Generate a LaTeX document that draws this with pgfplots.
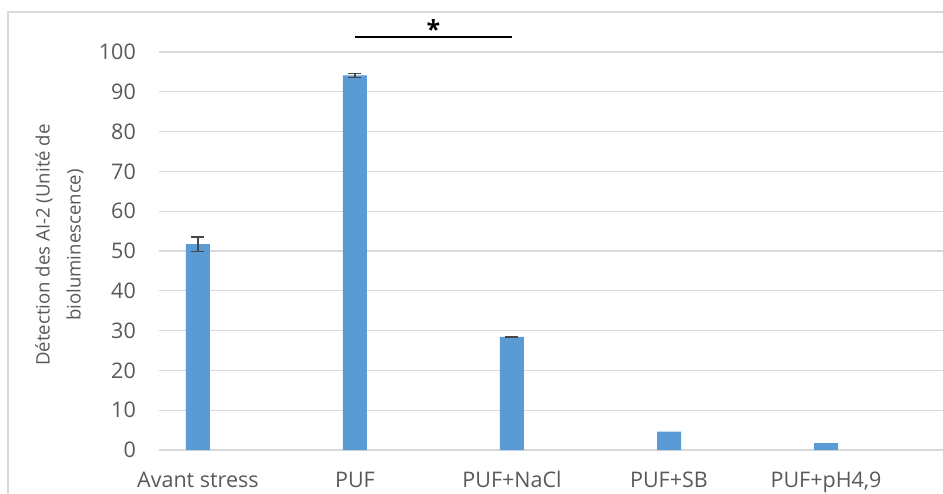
\documentclass[border=0pt]{standalone}
\usepackage{fontspec}
\setmainfont{Open Sans}
\usepackage{pgfplots}
\pgfplotsset{compat=1.18}
\definecolor{barblue}{HTML}{5B9BD5}
\definecolor{txtgray}{HTML}{595959}
\definecolor{gridgray}{HTML}{D9D9D9}
\definecolor{errgray}{HTML}{474747}
\begin{document}
\begin{tikzpicture}
\useasboundingbox (0pt,0pt) rectangle (943pt,493pt);
\fill[white] (0pt,0pt) rectangle (943pt,493pt);
\draw[gridgray, line width=1.5pt] (8pt,-5pt) -- (8pt,481pt) -- (950pt,481pt);
\begin{axis}[
  at={(159pt,43pt)}, anchor=south west,
  scale only axis, width=784pt, height=398pt,
  xmin=-0.248, xmax=4.745, ymin=0, ymax=100,
  clip=false,
  axis line style={draw=none},
  major tick length=0pt, tick style={draw=none},
  ytick={0,10,...,100},
  xtick={0,1,2,3,4},
  xticklabels={Avant stress, PUF, PUF+NaCl, PUF+SB, PUF+pH4{,}9},
  ymajorgrids, grid style={gridgray, line width=1.3pt},
  /pgf/number format/assume math mode=true,
  tick label style={font=\fontsize{21.5}{26}\selectfont, text=txtgray, inner sep=0pt},
  yticklabel style={anchor=east, xshift=-23pt},
  xticklabel style={anchor=base, yshift=-37pt},
  every axis y label/.style={at={(axis description cs:-0.127,0.515)}, rotate=90, anchor=center, align=center, font=\fontsize{18.6}{31}\selectfont, text=txtgray},
  ylabel={Détection des AI-2 (Unité de\\bioluminescence)},
]
\addplot[ybar, bar width=24pt, fill=barblue, draw=none,
  error bars/.cd, y dir=both, y explicit,
  error bar style={line width=1.5pt, color=errgray},
  error mark options={rotate=90, mark size=6.5pt, line width=1.5pt, errgray}]
  coordinates {(0,51.7) +- (0,1.8) (1,94.1) +- (0,0.5) (2,28.4) +- (0,0.15)};
\addplot[ybar, bar width=24pt, fill=barblue, draw=none]
  coordinates {(3,4.6) (4,1.7)};
\draw[black, line width=1.5pt] (axis cs:1,103.8) -- (axis cs:2,103.8);
\node[font=\bfseries\fontsize{25}{30}\selectfont, inner sep=0pt, anchor=center] at (axis cs:1.5,105.8) {*};
\end{axis}
\end{tikzpicture}
\end{document}
